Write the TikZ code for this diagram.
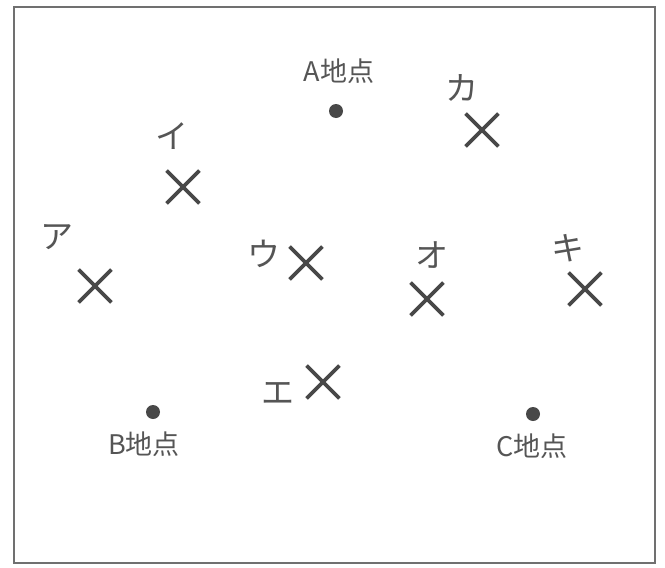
\documentclass[tikz,border=0pt]{standalone}
\usepackage{fontspec}
\newfontfamily\jp{Noto Sans CJK JP}
\usetikzlibrary{shapes.misc}
\definecolor{ink}{HTML}{484848}
\definecolor{txt}{HTML}{555555}
\definecolor{frame}{HTML}{707070}
\begin{document}
\begin{tikzpicture}[x=1pt,y=-1pt,
  xmark/.style={cross out,draw=ink,line width=3.8pt,minimum size=29pt,inner sep=0pt},
  spot/.style={circle,fill=ink,minimum size=14pt,inner sep=0pt},
  lbl/.style={text=txt,font=\jp\fontsize{27}{30}\selectfont,inner sep=0pt},
  kana/.style={text=txt,font=\jp\fontsize{33}{36}\selectfont,inner sep=0pt}]
\useasboundingbox (0,0) rectangle (665,568);
\draw[frame,line width=1.8pt] (14,7) rectangle (655,563);
% points
\node[spot] (A) at (336,111) {};
\node[spot] (B) at (153,412) {};
\node[spot] (C) at (533,414) {};
\node[lbl] (Al) at (339,71) {A地点};
\node[lbl] (Bl) at (144,444) {B地点};
\node[lbl] (Cl) at (532,446) {C地点};
% crosses
\node[xmark] (ka) at (482,130) {};
\node[xmark] (i) at (183,187) {};
\node[xmark] (a) at (95,286) {};
\node[xmark] (u) at (306,263) {};
\node[xmark] (o) at (427,299) {};
\node[xmark] (ki) at (585,289) {};
\node[xmark] (e) at (323,382) {};
% labels
\node[kana] (kal) at (462,88) {カ};
\node[kana] (il) at (172,136) {イ};
\node[kana] (al) at (57,237) {ア};
\node[kana] (ul) at (264,254) {ウ};
\node[kana] (ol) at (432,255) {オ};
\node[kana] (kil) at (568,248) {キ};
\node[kana] (el) at (278,393) {エ};
\end{tikzpicture}
\end{document}
